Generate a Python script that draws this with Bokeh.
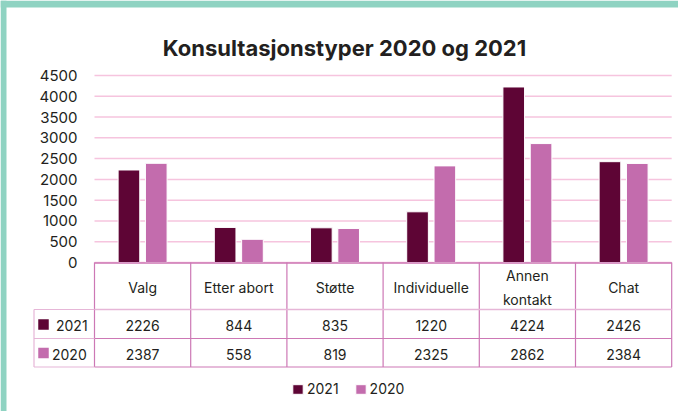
from bokeh.plotting import figure
from bokeh.models import ColumnDataSource, Range1d, Legend, LegendItem
from bokeh.transform import dodge
from bokeh.core.properties import value
from bokeh.embed import file_html
from bokeh.resources import INLINE

# ---- data ----
categories = ["Valg", "Etter abort", "Støtte", "Individuelle", "Annen\nkontakt", "Chat"]
series = ["2021", "2020"]
values_2021 = [2226, 844, 835, 1220, 4224, 2426]
values_2020 = [2387, 558, 819, 2325, 2862, 2384]
y_ticks = [0, 500, 1000, 1500, 2000, 2500, 3000, 3500, 4000, 4500]
title_text = "Konsultasjonstyper 2020 og 2021"

# ---- style ----
FONT = "Inter"
TXT = "#231f20"
C2021 = "#5e0535"
C2020 = "#c36cad"
GRID = "#f6c4de"
TLINE = "#cd78b5"
TLINE_LIGHT = "#e6b6d7"
TEAL = "#8fd3c2"

W, H = 678, 411
PLOT_L, CAT_W = 94, 96.2           # plot-area left edge and category width (px)
Y0, PX_PER_UNIT = 262, 187 / 4500  # pixel row of value 0, pixels per value unit

x_start = -PLOT_L / CAT_W
x_end = (W - PLOT_L) / CAT_W
y_top = Y0 / PX_PER_UNIT
y_bot = -(H - Y0) / PX_PER_UNIT

p = figure(width=W, height=H, x_range=Range1d(x_start, x_end), y_range=Range1d(y_bot, y_top),
           output_backend="svg", toolbar_location=None,
           min_border_left=0, min_border_right=0, min_border_top=0, min_border_bottom=0)
p.extra_x_ranges = {"px": Range1d(0, W)}
p.extra_y_ranges = {"px": Range1d(H, 0)}
p.outline_line_color = None
p.axis.visible = False
p.grid.visible = False

ncat = len(categories)
xpos = [i + 0.5 for i in range(ncat)]
src = ColumnDataSource(dict(x=xpos, cat=categories, v2021=values_2021, v2020=values_2020,
                            s2021=[str(v) for v in values_2021],
                            s2020=[str(v) for v in values_2020]))

# frame bands
p.quad(left=[0, 0], right=[6, W], bottom=[H, 7], top=[0, 0],
       x_range_name="px", y_range_name="px", fill_color=TEAL, line_color=None)

# title
p.text(x=[344], y=[47], text=[title_text], x_range_name="px", y_range_name="px",
       text_font=value(FONT), text_font_size="22px", text_font_style="bold",
       text_color=TXT, text_align="center", text_baseline="alphabetic")

# gridlines and value labels
p.segment(x0=[0] * len(y_ticks), y0=y_ticks, x1=[ncat] * len(y_ticks), y1=y_ticks,
          line_color=GRID, line_width=1.5)
p.text(x=[(77 - PLOT_L) / CAT_W] * len(y_ticks), y=y_ticks, text=[str(v) for v in y_ticks],
       text_font=value(FONT), text_font_size="15px", text_color=TXT,
       text_align="right", text_baseline="middle")

# bars
b1 = p.vbar(x=dodge("x", -0.142, range=p.x_range), top="v2021", width=0.225, source=src,
            fill_color=C2021, line_color="white", line_width=1)
b2 = p.vbar(x=dodge("x", 0.142, range=p.x_range), top="v2020", width=0.225, source=src,
            fill_color=C2020, line_color="white", line_width=1)

# ---- data table ----
p.segment(x0=list(range(ncat + 1)), y0=[262] * (ncat + 1), x1=list(range(ncat + 1)),
          y1=[366.5] * (ncat + 1), y_range_name="px", line_color=TLINE, line_width=1.2)
p.segment(x0=[0], y0=[262.5], x1=[ncat], y1=[262.5], y_range_name="px",
          line_color=TLINE, line_width=1.5)
p.segment(x0=[0], y0=[309], x1=[ncat], y1=[309], y_range_name="px",
          line_color=TLINE_LIGHT, line_width=1.5)
p.segment(x0=[0, 0], y0=[338, 366.5], x1=[ncat, ncat], y1=[338, 366.5], y_range_name="px",
          line_color=TLINE, line_width=1.2)
p.segment(x0=[33.5, 33.5, 33.5, 33.5], y0=[309, 338, 366.5, 309],
          x1=[PLOT_L] * 3 + [33.5], y1=[309, 338, 366.5, 366.5],
          x_range_name="px", y_range_name="px", line_color=TLINE_LIGHT, line_width=1.2)

p.text(x="x", y=287, text="cat", source=src, y_range_name="px",
       text_font=value(FONT), text_font_size="14px", text_color=TXT,
       text_align="center", text_baseline="middle", text_line_height=1.45)
p.text(x="x", y=325, text="s2021", source=src, y_range_name="px",
       text_font=value(FONT), text_font_size="14px", text_color=TXT,
       text_align="center", text_baseline="middle")
p.text(x="x", y=353.5, text="s2020", source=src, y_range_name="px",
       text_font=value(FONT), text_font_size="14px", text_color=TXT,
       text_align="center", text_baseline="middle")

# row keys
p.rect(x=[43, 43], y=[324, 352.5], width=10.5, height=10.5, x_range_name="px",
       y_range_name="px", fill_color=[C2021, C2020], line_color=None)
p.text(x=[55.5, 51.5], y=[325, 353.5], text=series, x_range_name="px", y_range_name="px",
       text_font=value(FONT), text_font_size="14px", text_color=TXT,
       text_align="left", text_baseline="middle")

# bottom legend
leg = Legend(items=[LegendItem(label=series[0], renderers=[b1]),
                    LegendItem(label=series[1], renderers=[b2])],
             location=(291, H - 397), orientation="horizontal", glyph_width=13, glyph_height=12,
             label_standoff=3, spacing=15, padding=0, margin=0, label_height=12,
             border_line_color=None, background_fill_alpha=0,
             label_text_font=FONT, label_text_font_size="14px", label_text_color=TXT)
p.add_layout(leg, "center")

open("out.html", "w").write(file_html(p, INLINE))
